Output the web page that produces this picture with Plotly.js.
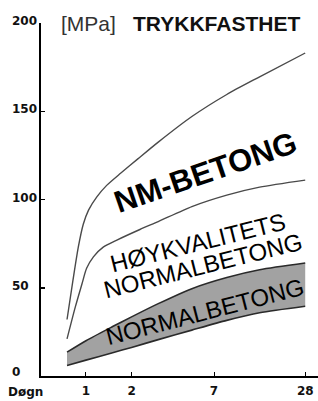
<!DOCTYPE html>
<html><head><meta charset="utf-8">
<script src="https://cdn.plot.ly/plotly-3.0.1.min.js"></script>
<style>html,body{margin:0;padding:0;background:#fff;}#chart{width:318px;height:401px;}</style>
</head><body><div id="chart"></div>
<script>
// Data (days, MPa)
const daysNm = [0.75, 0.82, 0.89, 0.96, 1.04, 1.18, 1.37, 1.7, 2.2, 3, 5, 8.5, 14, 28];
const nmBetong = [32, 54, 73, 86, 94, 101.5, 108, 115, 123, 132.5, 147, 159.5, 169.5, 183];
const daysHoy = [0.75, 0.85, 0.94, 1.01, 1.12, 1.3, 1.6, 2.27, 3, 5, 8.5, 14, 28];
const hoyNormal = [21, 39, 52, 61, 67.5, 73, 77, 83, 87.5, 96, 102.5, 107, 111];
const daysNormal = [0.75, 1, 1.5, 2, 3, 5, 8.5, 14, 28];
const normalUpper = [13.5, 20, 28, 33.5, 41, 49.5, 55.8, 60.2, 64];
const normalLower = [6, 9, 13.2, 16.2, 20.6, 26, 31.5, 35.8, 39.5];
const xTickVals = [1, 2, 7, 28];
const xTickText = ['1', '2', '7', '28'];
const yTickVals = [0, 50, 100, 150, 200];
const yTickText = ['0', '50', '100', '150', '200'];

const L = 41, W = 277, T = 23, H = 353;
const px = x => (x - L) / W;
const py = y => (T + H - y) / H;
const font = 'Liberation Sans, Arial, Helvetica, sans-serif';
const tickFont = {family: 'DejaVu Sans, sans-serif', size: 12, color: '#111', weight: 'bold'};

const sp = {shape: 'spline', smoothing: 0.7};
const traces = [
  {x: daysNormal, y: normalLower, mode: 'lines', line: Object.assign({color: '#2a2a2a', width: 1.6}, sp), hoverinfo: 'skip'},
  {x: daysNormal, y: normalUpper, mode: 'lines', fill: 'tonexty', fillcolor: '#a2a2a2', line: Object.assign({color: '#2a2a2a', width: 1.6}, sp), hoverinfo: 'skip'},
  {x: daysHoy, y: hoyNormal, mode: 'lines', line: Object.assign({color: '#4a4a4a', width: 1.4}, sp), hoverinfo: 'skip'},
  {x: daysNm, y: nmBetong, mode: 'lines', line: Object.assign({color: '#4a4a4a', width: 1.4}, sp), hoverinfo: 'skip'}
];

const ann = [];
yTickVals.forEach((v, i) => {
  ann.push({xref: 'paper', yref: 'y', x: px(10), y: v, xanchor: 'left', yanchor: 'middle', yshift: (v === 0 ? 4 : 2),
    text: yTickText[i], showarrow: false, font: tickFont});
});
ann.push({xref: 'paper', yref: 'paper', x: px(25), y: py(392), xanchor: 'center', yanchor: 'middle',
  text: 'Døgn', showarrow: false, font: tickFont});
ann.push({xref: 'paper', yref: 'paper', x: px(59), y: py(23), xanchor: 'left', yanchor: 'middle',
  text: '[MPa]', showarrow: false, font: {family: 'Liberation Sans Narrow, Arial Narrow, ' + font, size: 21, color: '#333'}});
ann.push({xref: 'paper', yref: 'paper', x: px(131), y: py(23), xanchor: 'left', yanchor: 'middle',
  text: 'TRYKKFASTHET', showarrow: false, font: {family: font, size: 21, color: '#111', weight: 'bold'}});
ann.push({xref: 'paper', yref: 'paper', x: px(205), y: py(172), xanchor: 'center', yanchor: 'middle', textangle: -19,
  text: 'NM-BETONG', showarrow: false, font: {family: font, size: 31, color: '#000', weight: 'bold'}});
ann.push({xref: 'paper', yref: 'paper', x: px(198), y: py(242), xanchor: 'center', yanchor: 'middle', textangle: -14,
  text: 'HØYKVALITETS', showarrow: false, font: {family: font, size: 24, color: '#000'}});
ann.push({xref: 'paper', yref: 'paper', x: px(203), y: py(265), xanchor: 'center', yanchor: 'middle', textangle: -14,
  text: 'NORMALBETONG', showarrow: false, font: {family: font, size: 24, color: '#000'}});
ann.push({xref: 'paper', yref: 'paper', x: px(205), y: py(311), xanchor: 'center', yanchor: 'middle', textangle: -14.5,
  text: 'NORMALBETONG', showarrow: false, font: {family: font, size: 24, color: '#000'}});

const layout = {
  width: 318, height: 401,
  margin: {l: L, r: 0, t: T, b: 401 - T - H, pad: 0},
  paper_bgcolor: '#fff', plot_bgcolor: '#fff',
  showlegend: false,
  xaxis: {type: 'log', range: [Math.log10(0.505), Math.log10(34)], showgrid: false, zeroline: false,
    showline: true, linecolor: '#000', linewidth: 2, ticks: 'inside', ticklen: 4, tickcolor: '#000', tickwidth: 1,
    tickvals: xTickVals, ticktext: xTickText, ticklabelstandoff: 3,
    tickfont: tickFont, fixedrange: true},
  yaxis: {range: [0, 200], showgrid: false, zeroline: false, showline: true, linecolor: '#000', linewidth: 2,
    ticks: 'inside', ticklen: 4, tickcolor: '#000', tickwidth: 1.5, tickvals: yTickVals, showticklabels: false, fixedrange: true},
  annotations: ann
};
Plotly.newPlot('chart', traces, layout, {staticPlot: true, displayModeBar: false});
</script></body></html>
